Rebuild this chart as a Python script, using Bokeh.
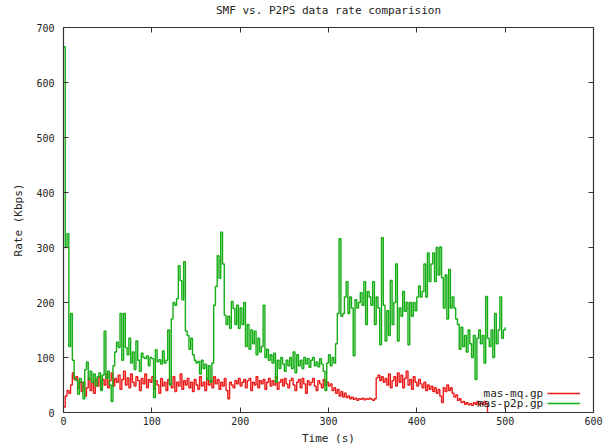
from bokeh.plotting import figure
from bokeh.models import Range1d, FixedTicker, LinearAxis, Label, Legend, LegendItem
from bokeh.core.properties import value
from bokeh.embed import file_html
from bokeh.resources import INLINE

TITLE = "SMF vs. P2PS data rate comparision"
X_LABEL = "Time (s)"
Y_LABEL = "Rate (Kbps)"
SERIES_NAMES = ["mas-mq.gp", "mas-p2p.gp"]
X_TICKS = [0, 100, 200, 300, 400, 500, 600]
Y_TICKS = [0, 100, 200, 300, 400, 500, 600, 700]
SAMPLE_STEP = 2  # seconds between samples

# mas-mq.gp (red), samples every 2 s from t=0
mq_rate = [
    10, 30, 40, 35, 50, 72, 60, 65, 45, 55,
    38, 55, 30, 45, 62, 40, 55, 35, 60, 48,
    65, 42, 60, 50, 70, 45, 58, 72, 48, 62,
    55, 68, 42, 60, 75, 50, 63, 45, 70, 55,
    48, 65, 58, 40, 62, 52, 70, 45, 60, 55,
    65, 42, 58, 50, 35, 62, 48, 55, 40, 60,
    52, 45, 65, 38, 55, 48, 70, 42, 58, 50,
    62, 45, 55, 38, 60, 50, 42, 65, 48, 55,
    40, 62, 50, 58, 45, 65, 52, 60, 42, 55,
    48, 62, 40, 25, 55, 50, 45, 58, 52, 62,
    48, 55, 60, 45, 58, 62, 40, 55, 50, 65,
    45, 58, 52, 60, 42, 55, 62, 48, 58, 50,
    65, 42, 55, 60, 48, 62, 52, 45, 58, 62,
    50, 40, 55, 60, 45, 62, 52, 35, 58, 50,
    55, 62, 48, 40, 58, 52, 45, 60, 50, 55,
    48, 52, 40, 45, 35, 42, 30, 38, 28, 35,
    27, 30, 25, 28, 24, 26, 22, 25, 24, 26,
    23, 25, 24, 26, 24, 22, 25, 63, 68, 58,
    65, 55, 62, 50, 70, 45, 58, 65, 48, 72,
    55, 68, 45, 62, 75, 50, 60, 42, 65, 55,
    48, 60, 52, 45, 55, 40, 50, 42, 48, 38,
    45, 35, 42, 30, 18, 45, 38, 50, 40, 45,
    35, 28, 32, 22, 25, 18, 20, 15, 18, 14,
    16, 13, 18, 15, 20, 14, 17, 15, 20, 16,
    0,
]

# mas-p2p.gp (green), samples every 2 s from t=0
p2p_rate = [
    665, 300, 325, 120, 180, 95, 62, 58, 33, 62,
    55, 25, 78, 92, 60, 75, 55, 70, 48, 65,
    72, 40, 68, 148, 62, 75, 50, 20, 85, 110,
    128, 118, 180, 95, 180, 118, 105, 135, 90, 110,
    78, 130, 95, 75, 108, 100, 98, 103, 85, 100,
    98, 27, 114, 92, 96, 88, 112, 90, 95, 150,
    50, 170, 200, 195, 207, 267, 240, 205, 274, 148,
    140, 115, 135, 105, 95, 90, 93, 70, 95, 80,
    88, 60, 85, 55, 90, 195, 229, 285, 244, 328,
    270, 177, 160, 175, 153, 202, 189, 160, 195, 153,
    190, 160, 200, 120, 160, 115, 150, 125, 148, 105,
    135, 110, 120, 195, 100, 115, 95, 105, 90, 108,
    55, 95, 80, 100, 88, 75, 95, 85, 100, 80,
    110, 72, 105, 85, 95, 80, 100, 88, 98, 82,
    95, 100, 85, 92, 83, 98, 88, 75, 40, 90,
    105, 85, 100, 90, 125, 180, 316, 175, 180, 210,
    238, 180, 210, 190, 103, 205, 190, 200, 218, 195,
    238, 160, 220, 210, 195, 238, 160, 210, 190, 123,
    318, 195, 130, 185, 140, 240, 160, 200, 270, 130,
    190, 175, 220, 184, 200, 123, 200, 175, 200, 185,
    210, 230, 210, 220, 270, 210, 290, 238, 270, 290,
    238, 300, 250, 301, 245, 190, 250, 170, 260, 190,
    210, 190, 170, 160, 115, 155, 120, 140, 110, 150,
    125, 100, 140, 60, 135, 150, 125, 140, 90, 211,
    135, 120, 150, 100, 180, 125, 150, 210, 135, 150,
    155,
]

mq_time = [i * SAMPLE_STEP for i in range(len(mq_rate))]
p2p_time = [i * SAMPLE_STEP for i in range(len(p2p_rate))]

RED = "#ee1a1a"
GREEN = "#14ad14"
TEXT = "#222222"
FONT = "DejaVu Sans Mono"

p = figure(width=607, height=447, output_backend="svg", toolbar_location=None,
           x_range=Range1d(0, 600), y_range=Range1d(0, 700), title=None,
           min_border_left=63, min_border_right=14, min_border_top=27, min_border_bottom=32)
p.background_fill_color = "white"
p.border_fill_color = "white"
p.outline_line_color = "#333333"
p.outline_line_width = 1.2
p.xgrid.visible = False
p.ygrid.visible = False


def style_axis(ax, ticks, show_labels, standoff):
    ax.ticker = FixedTicker(ticks=ticks)
    ax.major_tick_in = 5
    ax.major_tick_out = 0
    ax.minor_tick_in = 0
    ax.minor_tick_out = 0
    ax.axis_line_color = "#333333"
    ax.major_tick_line_color = "#333333"
    ax.major_label_standoff = standoff
    ax.major_label_text_font = FONT
    if show_labels:
        ax.major_label_text_color = TEXT
        ax.major_label_text_font_size = "10px"
    else:
        ax.major_label_text_color = None
        ax.major_label_text_font_size = "1px"
    ax.axis_label_text_font = FONT
    ax.axis_label_text_font_size = "11px"
    ax.axis_label_text_font_style = "normal"
    ax.axis_label_text_color = TEXT


xa = p.xaxis[0]
style_axis(xa, X_TICKS, True, 4)
xa.axis_label = X_LABEL
xa.axis_label_standoff = 4

ya = p.yaxis[0]
style_axis(ya, Y_TICKS, True, 9)
ya.axis_label = Y_LABEL
ya.axis_label_standoff = 8

# mirrored top axis (ticks only) carries the chart title as its label
top_axis = LinearAxis()
style_axis(top_axis, X_TICKS, False, 0)
top_axis.axis_label = TITLE
top_axis.axis_label_standoff = 11
right_axis = LinearAxis()
style_axis(right_axis, Y_TICKS, False, 0)
p.add_layout(top_axis, "above")
p.add_layout(right_axis, "right")

r_mq = p.step(mq_time, mq_rate, mode="after", line_color=RED, line_width=1.4)
r_p2p = p.step(p2p_time, p2p_rate, mode="after", line_color=GREEN, line_width=1.4)

# legend samples (gnuplot-style: text left of the sample line)
legend = Legend(items=[LegendItem(label=value(" "), renderers=[r_mq]),
                       LegendItem(label=value(" "), renderers=[r_p2p])],
                location=(484, 4), glyph_width=33, glyph_height=10,
                label_width=0, label_height=10, label_standoff=0,
                padding=0, spacing=0, margin=0,
                border_line_alpha=0, background_fill_alpha=0,
                label_text_font_size="1px", label_text_color=None)
p.add_layout(legend)

for name, yv in zip(SERIES_NAMES, [34.3, 16.2]):
    p.add_layout(Label(x=543, y=yv, text=name, text_align="right", text_baseline="middle",
                       text_font=FONT, text_font_size="11px", text_color=TEXT))

open("out.html", "w").write(file_html(p, INLINE))
